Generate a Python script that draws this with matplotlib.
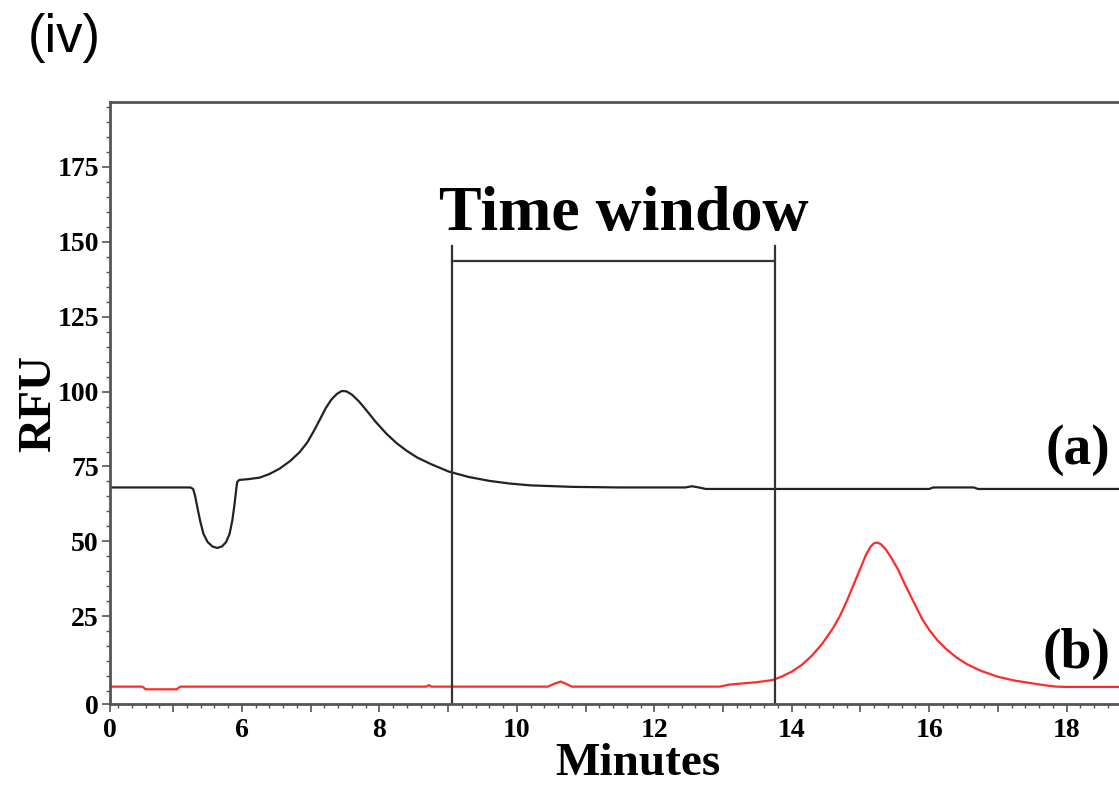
import matplotlib
matplotlib.use("Agg")
import matplotlib.pyplot as plt
from matplotlib.ticker import MultipleLocator

# trace (a): time (min) and RFU
time_a = [4.08, 5.25, 5.29, 5.32, 5.35, 5.39, 5.44, 5.50, 5.57, 5.64, 5.71, 5.77,
          5.82, 5.86, 5.89, 5.915, 5.93, 5.96, 6.10, 6.26, 6.40, 6.55, 6.70, 6.84,
          6.95, 7.05, 7.13, 7.22, 7.30, 7.38, 7.45, 7.52, 7.60, 7.70, 7.81, 7.95,
          8.10, 8.25, 8.40, 8.55, 8.75, 9.01, 9.30, 9.60, 9.90, 10.2, 10.8, 11.5,
          12.45, 12.55, 12.65, 12.75, 14.0, 16.0, 16.06, 16.65, 16.71, 18.85]
rfu_a = [68.0, 68.0, 67.5, 65.0, 61.5, 57.0, 52.5, 49.8, 48.3, 47.8, 48.3, 49.8,
         52.5, 57.0, 62.0, 67.0, 69.8, 70.5, 70.8, 71.3, 72.5, 74.3, 76.8, 79.8,
         83.0, 87.0, 90.5, 94.5, 97.3, 99.2, 100.2, 100.1, 99.0, 96.8, 93.8, 89.8,
         86.0, 82.8, 80.2, 78.0, 75.8, 73.3, 71.5, 70.2, 69.3, 68.7, 68.2, 68.0,
         68.0, 68.4, 68.0, 67.5, 67.5, 67.5, 68.0, 68.0, 67.5, 67.5]

# trace (b)
time_b = [4.08, 4.55, 4.60, 5.05, 5.10, 8.68, 8.72, 8.76, 10.45, 10.55, 10.64,
          10.72, 10.80, 12.95, 13.10, 13.30, 13.50, 13.72, 13.85, 14.00, 14.15,
          14.30, 14.45, 14.60, 14.70, 14.80, 14.90, 15.00, 15.08, 15.15, 15.20,
          15.25, 15.30, 15.37, 15.45, 15.55, 15.65, 15.78, 15.90, 16.00, 16.12,
          16.25, 16.40, 16.55, 16.75, 17.00, 17.25, 17.50, 17.70, 17.85, 18.00,
          18.85]
rfu_b = [1.5, 1.5, 0.6, 0.6, 1.5, 1.5, 2.0, 1.5, 1.5, 2.5, 3.2,
         2.4, 1.5, 1.5, 2.2, 2.6, 3.0, 3.7, 4.8, 6.5, 8.8,
         12.0, 16.0, 21.0, 25.0, 30.0, 35.5, 41.0, 45.5, 48.3, 49.4,
         49.6, 49.0, 47.3, 44.5, 40.5, 35.5, 29.5, 24.0, 20.5, 17.0,
         14.0, 11.2, 9.0, 6.8, 4.8, 3.5, 2.6, 1.9, 1.5, 1.4,
         1.4]

window = [9.05, 13.76]
x_range = [4.08, 18.85]
y_range = [-4.3, 196.7]
x_labels = {4.08: "0", 6: "6", 8: "8", 10: "10", 12: "12", 14: "14", 16: "16", 18: "18"}
y_labels = {-4.3: "0", 25: "25", 50: "50", 75: "75", 100: "100", 125: "125",
            150: "150", 175: "175"}

serif = "Liberation Serif"

fig = plt.figure(figsize=(11.19, 7.86), dpi=100)
ax = fig.add_axes([110 / 1119, 82 / 786, 1015 / 1119, 602 / 786])

ax.plot(time_a, rfu_a, color="#222222", lw=1.6)
ax.plot(time_b, rfu_b, color="#ff2a2a", lw=1.6)

# time window bracket
for t in window:
    ax.plot([t, t], [y_range[0], 148.7], color="#333333", lw=1.6)
ax.plot(window, [143.7, 143.7], color="#333333", lw=1.6)
ax.text(11.56, 159, "Time window", ha="center", va="center",
        family=serif, weight="bold", fontsize=46)

ax.text(18.64, 80.5, "(a)", ha="right", va="center", family=serif,
        weight="bold", fontsize=40)
ax.text(18.64, 12.5, "(b)", ha="right", va="center", family=serif,
        weight="bold", fontsize=40)

ax.set_xlim(x_range)
ax.set_ylim(y_range)

xt = [4.08] + list(range(5, 19))
ax.set_xticks(xt)
ax.set_xticklabels([x_labels.get(t, "") for t in xt])
ax.xaxis.set_minor_locator(MultipleLocator(0.2))
ax.set_yticks(list(y_labels.keys()))
ax.set_yticklabels(list(y_labels.values()))
ax.yaxis.set_minor_locator(MultipleLocator(5))

ax.tick_params(which="major", length=6, width=1.2, color="#555555")
ax.tick_params(which="minor", length=3, width=1.0, color="#555555")
ax.tick_params(axis="x", pad=4)
ax.tick_params(axis="y", pad=2)
for lab in ax.get_xticklabels() + ax.get_yticklabels():
    lab.set_family(serif)
    lab.set_weight("bold")
    lab.set_fontsize(20)

for side in ["left", "bottom", "top"]:
    ax.spines[side].set_color("#555555")
    ax.spines[side].set_linewidth(2)
ax.spines["right"].set_visible(False)

ax.set_xlabel("Minutes", family=serif, weight="bold", fontsize=34)
ax.xaxis.set_label_coords(0.52, -0.064, transform=ax.transAxes)
ax.xaxis.label.set_va("top")
ax.set_ylabel("RFU", family=serif, weight="bold", fontsize=34, labelpad=-2)

fig.text(28 / 1119, 1 - 38 / 786, "(iv)", ha="left", va="center",
         family="Liberation Sans", fontsize=38)

fig.savefig("out.png", dpi=100)
